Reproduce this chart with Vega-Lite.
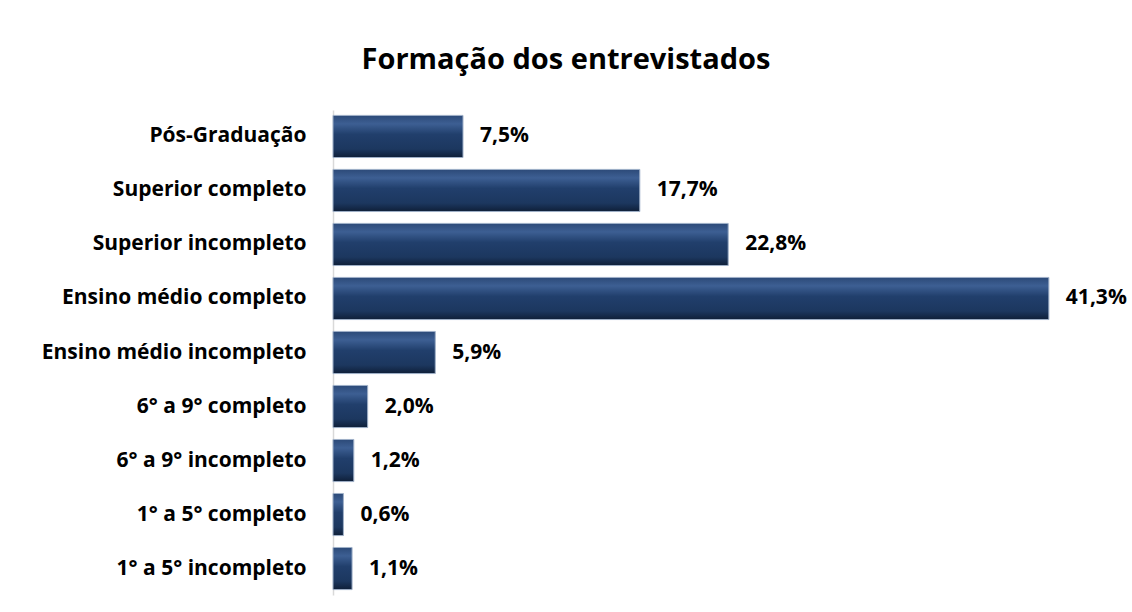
{
  "$schema": "https://vega.github.io/schema/vega-lite/v6.json",
  "width": 780,
  "height": 485,
  "autosize": {"type": "none"},
  "padding": {"left": 333, "top": 110, "right": 19, "bottom": 17},
  "background": "white",
  "title": {
    "text": "Formação dos entrevistados",
    "font": "Open Sans",
    "fontSize": 29,
    "fontWeight": "bold",
    "color": "#000000",
    "anchor": "middle",
    "dx": -157,
    "offset": 35
  },
  "config": {
    "view": {"stroke": null},
    "font": "Open Sans"
  },
  "data": {
    "values": [
      {"categoria": "Pós-Graduação", "valor": 7.5, "rotulo": "7,5%"},
      {"categoria": "Superior completo", "valor": 17.7, "rotulo": "17,7%"},
      {"categoria": "Superior incompleto", "valor": 22.8, "rotulo": "22,8%"},
      {"categoria": "Ensino médio completo", "valor": 41.3, "rotulo": "41,3%"},
      {"categoria": "Ensino médio incompleto", "valor": 5.9, "rotulo": "5,9%"},
      {"categoria": "6° a 9° completo", "valor": 2.0, "rotulo": "2,0%"},
      {"categoria": "6° a 9° incompleto", "valor": 1.2, "rotulo": "1,2%"},
      {"categoria": "1° a 5° completo", "valor": 0.6, "rotulo": "0,6%"},
      {"categoria": "1° a 5° incompleto", "valor": 1.1, "rotulo": "1,1%"}
    ]
  },
  "encoding": {
    "y": {
      "field": "categoria",
      "type": "nominal",
      "sort": null,
      "scale": {"paddingInner": 0.22, "paddingOuter": 0.1},
      "axis": {
        "title": null,
        "ticks": false,
        "labelFont": "Open Sans",
        "labelFontSize": 21,
        "labelFontWeight": "bold",
        "labelColor": "#000000",
        "labelLimit": 330,
        "labelPadding": 27,
        "domainColor": "#d9d9d9",
        "domainWidth": 1.5
      }
    },
    "x": {
      "field": "valor",
      "type": "quantitative",
      "scale": {"domain": [0, 45], "nice": false},
      "axis": null
    }
  },
  "layer": [
    {
      "mark": {
        "type": "bar",
        "stroke": "#9fb0c8",
        "strokeWidth": 1,
        "color": {
          "gradient": "linear",
          "x1": 0, "y1": 0, "x2": 0, "y2": 1,
          "stops": [
            {"offset": 0, "color": "#2c4a78"},
            {"offset": 0.2, "color": "#3d5f93"},
            {"offset": 0.45, "color": "#213f6c"},
            {"offset": 0.8, "color": "#1c375f"},
            {"offset": 1, "color": "#0f1f38"}
          ]
        }
      }
    },
    {
      "mark": {
        "type": "text",
        "align": "left",
        "baseline": "middle",
        "dx": 17,
        "font": "Open Sans",
        "fontSize": 21,
        "fontWeight": "bold",
        "color": "#000000"
      },
      "encoding": {"text": {"field": "rotulo"}}
    }
  ]
}
